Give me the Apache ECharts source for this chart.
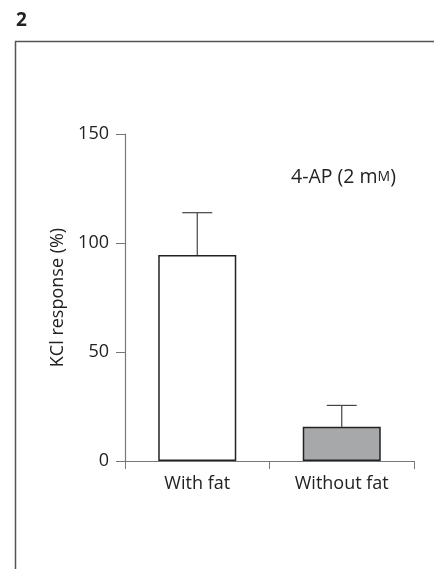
<!DOCTYPE html>
<html><head><meta charset="utf-8">
<script src="https://cdn.jsdelivr.net/npm/echarts@6/dist/echarts.min.js"></script>
<style>html,body{margin:0;padding:0;background:#fff}#c{width:434px;height:569px}</style>
</head><body><div id="c"></div>
<script>
var categories = ['With fat', 'Without fat'];
var means = [94.5, 15.7];
var errors = [19.4, 9.8];
var barColors = ['#ffffff', '#a7a8aa'];
var yTicks = [0, 50, 100, 150];

var chart = echarts.init(document.getElementById('c'));
var font = '"Open Sans", "Noto Sans", sans-serif';
chart.setOption({
  animation: false,
  backgroundColor: '#fff',
  graphic: [
    { type: 'text', left: 16, top: 11, style: { text: '2', font: 'bold 19px ' + font, fill: '#222' } },
    { type: 'polyline', shape: { points: [[15.5, 569], [15.5, 41.5], [434, 41.5]] }, style: { stroke: '#555', lineWidth: 1.5, fill: null } }
  ],
  grid: { left: 125, top: 134, right: 20, height: 327 },
  xAxis: {
    type: 'category', data: categories,
    axisLine: { lineStyle: { color: '#777', width: 1.2 } },
    axisTick: { show: true, length: 8, lineStyle: { color: '#777' } },
    axisLabel: { color: '#222', fontSize: 18, fontFamily: font, margin: 14 }
  },
  yAxis: {
    type: 'value', min: yTicks[0], max: yTicks[yTicks.length - 1], interval: 50,
    name: 'KCl response (%)', nameLocation: 'middle', nameGap: 58, nameRotate: 90,
    nameTextStyle: { color: '#222', fontSize: 18, fontFamily: font },
    axisLine: { show: true, lineStyle: { color: '#777', width: 1.2 } },
    axisTick: { show: true, length: 9, lineStyle: { color: '#777' } },
    axisLabel: { color: '#222', fontSize: 18, fontFamily: font, margin: 16 },
    splitLine: { show: false }
  },
  series: [
    {
      type: 'bar', barWidth: '54%',
      data: means.map(function (v, i) { return { value: v, itemStyle: { color: barColors[i] } }; }),
      itemStyle: { borderColor: '#222', borderWidth: 1.5 },
      z: 3
    },
    {
      type: 'custom', z: 2,
      data: means.map(function (v, i) { return [i, v, v + errors[i]]; }),
      renderItem: function (params, api) {
        var base = api.coord([api.value(0), api.value(1)]);
        var top = api.coord([api.value(0), api.value(2)]);
        var hw = 15;
        return {
          type: 'group',
          children: [
            { type: 'line', shape: { x1: base[0], y1: base[1], x2: top[0], y2: top[1] }, style: { stroke: '#444', lineWidth: 1.2 } },
            { type: 'line', shape: { x1: top[0] - hw, y1: top[1], x2: top[0] + hw, y2: top[1] }, style: { stroke: '#444', lineWidth: 1.2 } }
          ]
        };
      }
    }
  ],
  title: {
    text: '{a|4-AP (2 m}{b|M}{a|)}', left: 286, top: 162,
    textStyle: { rich: {
      a: { fontSize: 19.5, fontWeight: 'normal', fontFamily: font, color: '#222' },
      b: { fontSize: 14, fontWeight: 'normal', fontFamily: font, color: '#222' } } }
  }
});
</script></body></html>
